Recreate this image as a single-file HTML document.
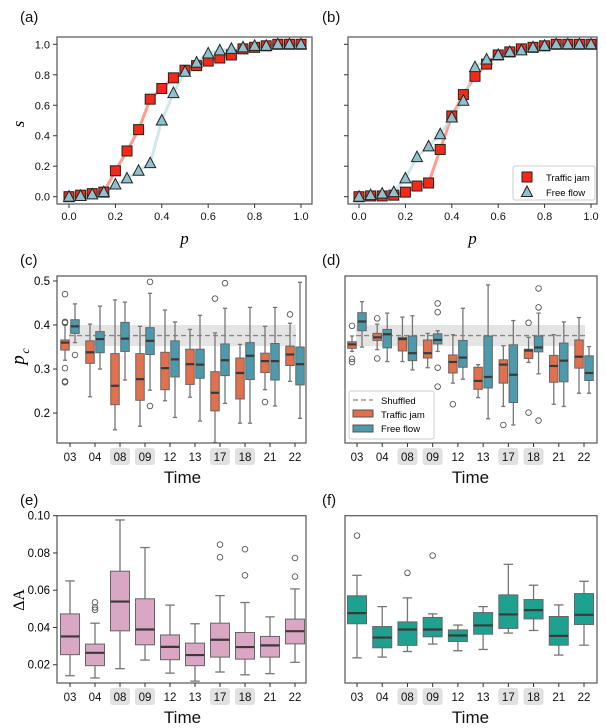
<!DOCTYPE html>
<html><head><meta charset="utf-8"><style>
body{margin:0;background:#fff}
svg{display:block;font-family:"Liberation Sans",sans-serif}
</style></head><body>
<svg id="fig" width="606" height="728" viewBox="0 0 606 728" xmlns="http://www.w3.org/2000/svg"></svg>
<script>
// ---------- data ----------
const pVals=[0,0.05,0.1,0.15,0.2,0.25,0.3,0.35,0.4,0.45,0.5,0.55,0.6,0.65,0.7,0.75,0.8,0.85,0.9,0.95,1];
const aJam=[0,0.01,0.02,0.03,0.17,0.30,0.44,0.64,0.71,0.78,0.83,0.86,0.89,0.91,0.93,0.97,0.98,0.99,1,1,1];
const aFree=[0,0.005,0.015,0.03,0.08,0.12,0.17,0.22,0.50,0.68,0.82,0.88,0.94,0.96,0.97,0.98,0.99,0.99,1,1,1];
const bJam=[0,0.005,0.005,0.01,0.03,0.07,0.09,0.31,0.53,0.67,0.79,0.87,0.93,0.95,0.97,0.98,0.99,1,1,1,1];
const bFree=[0,0.01,0.02,0.03,0.12,0.26,0.33,0.41,0.52,0.63,0.85,0.90,0.93,0.95,0.96,0.98,0.99,1,1,1,1];
const times=["03","04","08","09","12","13","17","18","21","22"];
const highlighted=["08","09","17","18"];
// box stats: [low whisker, q1, median, q3, high whisker]
const cJam=[[0.32,0.343,0.36,0.366,0.40],[0.237,0.313,0.338,0.364,0.402],[0.162,0.219,0.262,0.335,0.457],[0.17,0.229,0.277,0.335,0.397],[0.228,0.253,0.302,0.338,0.434],[0.236,0.265,0.311,0.345,0.39],[0.133,0.205,0.246,0.294,0.382],[0.177,0.232,0.291,0.325,0.356],[0.253,0.292,0.318,0.336,0.397],[0.272,0.308,0.333,0.352,0.404]];
const cJamOut=[[0.47,0.407,0.405,0.302,0.272,0.27],[],[],[],[],[],[0.46],[],[0.225],[0.424]];
const cFree=[[0.36,0.381,0.397,0.412,0.448],[0.30,0.337,0.368,0.385,0.443],[0.275,0.34,0.369,0.406,0.452],[0.252,0.333,0.364,0.394,0.472],[0.19,0.282,0.322,0.364,0.407],[0.182,0.279,0.31,0.345,0.422],[0.222,0.285,0.32,0.357,0.438],[0.177,0.276,0.33,0.36,0.44],[0.216,0.275,0.318,0.358,0.44],[0.188,0.264,0.311,0.35,0.497]];
const cFreeOut=[[0.332],[],[],[0.498,0.216],[],[],[0.495],[],[],[]];
const dJam=[[0.34,0.347,0.356,0.362,0.375],[0.344,0.365,0.372,0.381,0.402],[0.317,0.341,0.368,0.372,0.418],[0.303,0.325,0.336,0.366,0.381],[0.268,0.291,0.316,0.332,0.378],[0.235,0.254,0.273,0.304,0.31],[0.215,0.268,0.310,0.321,0.353],[0.315,0.324,0.342,0.345,0.372],[0.220,0.270,0.307,0.331,0.378],[0.245,0.302,0.328,0.366,0.417]];
const dJamOut=[[0.398,0.323,0.316],[0.415,0.324],[],[],[0.220],[],[0.173],[0.405,0.201],[],[]];
const dFree=[[0.35,0.387,0.408,0.428,0.453],[0.317,0.348,0.379,0.390,0.427],[0.298,0.319,0.336,0.375,0.421],[0.340,0.357,0.366,0.380,0.387],[0.277,0.304,0.326,0.365,0.438],[0.187,0.257,0.282,0.375,0.491],[0.173,0.224,0.287,0.355,0.410],[0.289,0.339,0.349,0.375,0.427],[0.215,0.271,0.319,0.359,0.407],[0.245,0.274,0.291,0.330,0.351]];
const dFreeOut=[[],[],[],[0.449,0.429,0.303,0.260],[],[],[],[0.483,0.440,0.183],[],[]];
const shuffledBand=[0.352,0.376,0.40];
const eBox=[[0.0141,0.0254,0.0352,0.0473,0.065],[0.0129,0.0195,0.0264,0.0311,0.0423],[0.0179,0.0382,0.0539,0.0702,0.0977],[0.0225,0.0307,0.0389,0.0554,0.0829],[0.0155,0.0227,0.0296,0.036,0.052],[0.0112,0.0195,0.0252,0.0316,0.042],[0.0161,0.0241,0.0334,0.0423,0.0571],[0.0146,0.023,0.0295,0.0373,0.0534],[0.0152,0.0241,0.0304,0.0352,0.0457],[0.0213,0.0312,0.038,0.0445,0.0607]];
const eOut=[[],[0.0535,0.0508,0.0495],[],[],[],[],[0.0845,0.0777],[0.082,0.068],[],[0.0773,0.0673]];
const fBox=[[0.0237,0.042,0.0477,0.057,0.068],[0.0241,0.0291,0.0346,0.0405,0.0512],[0.0271,0.0304,0.0389,0.043,0.0559],[0.0311,0.035,0.0389,0.0454,0.0473],[0.0275,0.0325,0.0357,0.0387,0.0413],[0.0282,0.0364,0.0411,0.048,0.0512],[0.037,0.0395,0.047,0.0575,0.0739],[0.0384,0.0446,0.0493,0.055,0.0627],[0.0252,0.0305,0.0355,0.0459,0.0521],[0.0305,0.0416,0.0468,0.0582,0.0648]];
const fOut=[[0.0893],[],[0.0693],[0.0786],[],[],[],[],[],[]];
const sTicks=[0,0.2,0.4,0.6,0.8,1.0];
const pcTicks=[0.2,0.3,0.4,0.5];
const daTicks=[0.02,0.04,0.06,0.08,0.10];

// ---------- helpers ----------
const NS="http://www.w3.org/2000/svg";
const svg=document.getElementById('fig');
function mk(tag,attrs,parent,text){const e=document.createElementNS(NS,tag);for(const k in attrs)e.setAttribute(k,attrs[k]);if(text!==undefined)e.textContent=text;(parent||svg).appendChild(e);return e;}
function lin(d0,d1,r0,r1){return v=>r0+(v-d0)*(r1-r0)/(d1-d0);}
function frame(x0,y0,x1,y1,name){const r=mk('rect',{x:x0,y:y0,width:x1-x0,height:y1-y0,fill:'none',stroke:'#555','stroke-width':1.2});}
function label(x,y,t,name){const e=mk('text',{x:x,y:y,'font-size':15,fill:'#111'},svg,t);}

// ---------- top panels ----------
function sPanel(px0,px1,bx0,bx1,jam,free,tag,legend){
  const X=lin(0,1,px0,px1),Y=lin(0,1,196.7,44.3);
  frame(bx0,37,bx1,204,'axes-frame-'+tag);
  for(const t of [0,0.2,0.4,0.6,0.8,1]){
    mk('line',{x1:X(t),x2:X(t),y1:204,y2:208,stroke:'#333'});
    const e=mk('text',{x:X(t),y:220,'font-size':11,'text-anchor':'middle',fill:'#111'},svg,t.toFixed(1));
    
  }
  for(const t of sTicks){
    mk('line',{x1:bx0-4,x2:bx0,y1:Y(t),y2:Y(t),stroke:'#333'});
    if(tag==='a'){const e=mk('text',{x:bx0-7,y:Y(t)+4,'font-size':11,'text-anchor':'end',fill:'#111'},svg,t.toFixed(1));
    }
  }
  const pl=(arr,col,name)=>{const l=mk('polyline',{points:arr.map((v,i)=>X(pVals[i])+','+Y(v)).join(' '),fill:'none',stroke:col,'stroke-width':3,'stroke-opacity':0.75});
    };
  pl(jam,'#ff7a6a','jam-line-'+tag);pl(free,'#bfe0e6','free-line-'+tag);
  jam.forEach((v,i)=>{const r=mk('rect',{x:X(pVals[i])-5,y:Y(v)-5,width:10,height:10,fill:'#f5291a',stroke:'#222','stroke-width':1});
    });
  free.forEach((v,i)=>{const x=X(pVals[i]),y=Y(v);const t=mk('polygon',{points:`${x},${y-6} ${x-5.5},${y+4.5} ${x+5.5},${y+4.5}`,fill:'#8fc2cc',stroke:'#222','stroke-width':1});
    });
  const pl2=mk('text',{x:(bx0+bx1)/2,y:244,'font-size':17,'font-style':'italic','font-family':'Liberation Serif,serif','text-anchor':'middle'},svg,'p');
  
  if(legend){
    const g=mk('g',{});
    mk('rect',{x:513,y:166,width:82,height:34,rx:2,fill:'#fff',stroke:'#ccc'},g);
    mk('rect',{x:522,y:172,width:10,height:10,fill:'#f5291a',stroke:'#222'},g);
    mk('text',{x:546,y:181,'font-size':9.5},g,'Traffic jam');
    mk('polygon',{points:'527,186 521.5,196.5 532.5,196.5',fill:'#8fc2cc',stroke:'#222'},g);
    mk('text',{x:546,y:196,'font-size':9.5},g,'Free flow');
  }
}
sPanel(69,301,57,312,aJam,aFree,'a',false);
sPanel(359,591,348,597,bJam,bFree,'b',true);
{const e=mk('text',{x:24,y:124,'font-size':17,'font-style':'italic','font-family':'Liberation Serif,serif','text-anchor':'middle',transform:'rotate(-90 24 124)'},svg,'s');
}

// ---------- box panels ----------
function tickLabels(X,ybase,tag){
  times.forEach((t,i)=>{const x=X(i);
    mk('line',{x1:x,x2:x,y1:ybase,y2:ybase+4,stroke:'#333'});
    if(highlighted.includes(t)){const r=mk('rect',{x:x-10,y:ybase+5,width:20,height:17,rx:3,fill:'#e1e1e1'});}
    const e=mk('text',{x:x,y:ybase+18,'font-size':11.5,'text-anchor':'middle',fill:'#111'},svg,t);
    });
  const e=mk('text',{x:(X(0)+X(9))/2,y:ybase+40,'font-size':17,'text-anchor':'middle',fill:'#111'},svg,'Time');
  
}
function box(x,w,s,outs,Y,fill,name){
  const g=mk('g',{});
  mk('line',{x1:x,x2:x,y1:Y(s[0]),y2:Y(s[1]),stroke:'#777','stroke-width':1.3},g);
  mk('line',{x1:x,x2:x,y1:Y(s[3]),y2:Y(s[4]),stroke:'#777','stroke-width':1.3},g);
  mk('line',{x1:x-w/4,x2:x+w/4,y1:Y(s[0]),y2:Y(s[0]),stroke:'#777','stroke-width':1.3},g);
  mk('line',{x1:x-w/4,x2:x+w/4,y1:Y(s[4]),y2:Y(s[4]),stroke:'#777','stroke-width':1.3},g);
  mk('rect',{x:x-w/2,y:Y(s[3]),width:w,height:Y(s[1])-Y(s[3]),fill:fill,stroke:'#666','stroke-width':1},g);
  mk('line',{x1:x-w/2,x2:x+w/2,y1:Y(s[2]),y2:Y(s[2]),stroke:'#3a3a3a','stroke-width':2.2},g);
  outs.forEach(o=>mk('circle',{cx:x,cy:Y(o),r:2.8,fill:'none',stroke:'#555','stroke-width':0.9},g));
}
const ORANGE='#e2704c',BLUE='#4c9aac';
function pcPanel(bx0,bx1,c0,c9,jam,jamOut,free,freeOut,tag,showY,legend){
  const X=lin(0,9,c0,c9),Y=lin(0.132,0.5113,443,276);
  // band
  const b=mk('rect',{x:X(0)-1,y:Y(shuffledBand[2]),width:X(9)-X(0)+2,height:Y(shuffledBand[0])-Y(shuffledBand[2]),fill:'#d9d9d9','fill-opacity':0.7});
  
  const l=mk('line',{x1:X(0)-1,x2:X(9)+1,y1:Y(shuffledBand[1]),y2:Y(shuffledBand[1]),stroke:'#888','stroke-width':1.3,'stroke-dasharray':'5,3'});
  
  jam.forEach((s,i)=>box(X(i)-5,8.5,s,jamOut[i],Y,ORANGE,'jam-box-'+times[i]));
  free.forEach((s,i)=>box(X(i)+5,8.5,s,freeOut[i],Y,BLUE,'free-box-'+times[i]));
  frame(bx0,276,bx1,443,'axes-frame-'+tag);
  if(showY){pcTicks.forEach(t=>{mk('line',{x1:bx0-4,x2:bx0,y1:Y(t),y2:Y(t),stroke:'#333'});
    const e=mk('text',{x:bx0-7,y:Y(t)+4,'font-size':11.5,'text-anchor':'end'},svg,t.toFixed(1));
    });}
  tickLabels(X,443,tag);
  if(legend){
    const g=mk('g',{});
    mk('rect',{x:349,y:391,width:85,height:48,rx:2,fill:'#fff','fill-opacity':0.85,stroke:'#ccc'},g);
    mk('line',{x1:353,x2:373,y1:400,y2:400,stroke:'#888','stroke-width':1.3,'stroke-dasharray':'5,3'},g);
    mk('text',{x:381,y:404,'font-size':9.5},g,'Shuffled');
    mk('rect',{x:353,y:410,width:20,height:7,fill:ORANGE,stroke:'#555'},g);
    mk('text',{x:381,y:418,'font-size':9.5},g,'Traffic jam');
    mk('rect',{x:353,y:425,width:20,height:7,fill:BLUE,stroke:'#555'},g);
    mk('text',{x:381,y:432,'font-size':9.5},g,'Free flow');
  }
}
pcPanel(57,306,70,295,cJam,cJamOut,cFree,cFreeOut,'c',true,false);
pcPanel(345,597,357,584,dJam,dJamOut,dFree,dFreeOut,'d',false,true);
{const e=mk('text',{x:24,y:360,'font-size':19,'font-style':'italic','font-family':'Liberation Serif,serif',transform:'rotate(-90 24 360)','text-anchor':'middle'},svg,'p');

mk('text',{x:29,y:351,'font-size':12,'font-style':'italic','font-family':'Liberation Serif,serif',transform:'rotate(-90 29 351)','text-anchor':'middle'},svg,'c');}

function daPanel(bx0,bx1,c0,c9,data,outs,fill,tag,showY){
  const X=lin(0,9,c0,c9),Y=lin(0.0102,0.10,683,515.7);
  data.forEach((s,i)=>box(X(i),19,s,outs[i],Y,fill,'box-'+tag+'-'+times[i]));
  frame(bx0,515.7,bx1,683,'axes-frame-'+tag);
  if(showY){daTicks.forEach(t=>{mk('line',{x1:bx0-4,x2:bx0,y1:Y(t),y2:Y(t),stroke:'#333'});
    const e=mk('text',{x:bx0-7,y:Y(t)+4,'font-size':11.5,'text-anchor':'end'},svg,t.toFixed(2));
    });}
  tickLabels(X,683,tag);
}
daPanel(57,306,70,295,eBox,eOut,'#d9a6c4','e',true);
daPanel(345,597,357,584,fBox,fOut,'#1fa18f','f',false);
{const e=mk('text',{x:24,y:600,'font-size':16,'font-family':'Liberation Serif,serif',transform:'rotate(-90 24 600)','text-anchor':'middle'},svg,'ΔA');
}

label(20,22,'(a)','panel-label-a');label(322,22,'(b)','panel-label-b');
label(20,265,'(c)','panel-label-c');label(322,265,'(d)','panel-label-d');
label(20,505,'(e)','panel-label-e');label(322,505,'(f)','panel-label-f');
</script>
</body></html>
